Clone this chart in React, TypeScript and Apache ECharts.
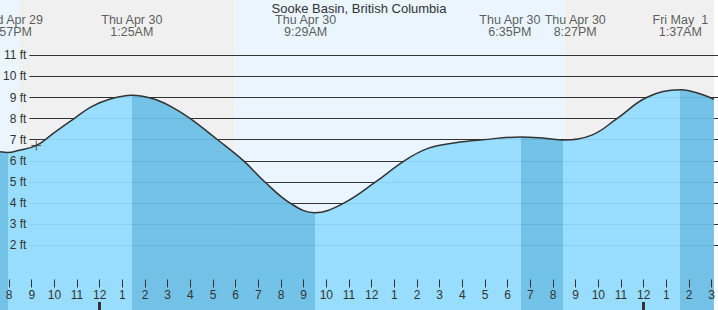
import { useEffect, useRef } from "react";
import * as echarts from "echarts";

// Hours are counted from 8 PM, Wed Apr 29.
const tideHours = [-0.4, -0.05, 0.4, 1.21, 2.01, 2.87, 3.62, 4.43, 5.417, 6.43, 7.23, 8.0, 9.2, 10.35, 11.29, 12.4, 13.483, 14.77, 16.17, 17.44, 18.48, 19.69, 20.89, 22.583, 23.71, 24.45, 25.71, 26.82, 28.13, 29.617, 31.1];
const tideLevels = [6.43, 6.4, 6.49, 6.73, 7.35, 8.0, 8.56, 8.92, 9.11, 8.92, 8.52, 8.0, 7.0, 6.0, 5.0, 4.0, 3.54, 4.0, 5.0, 6.0, 6.59, 6.86, 7.0, 7.13, 7.06, 6.99, 7.22, 8.0, 9.0, 9.37, 8.92];

const eventHours = [-0.05, 5.417, 13.483, 22.583, 24.45, 29.617];
const eventLevels = [6.4, 9.11, 3.54, 7.13, 6.99, 9.37];
const eventDays = ["Wed Apr 29", "Thu Apr 30", "Thu Apr 30", "Thu Apr 30", "Thu Apr 30", "Fri May \u00a01"];
const eventTimes = ["7:57PM", "1:25AM", "9:29AM", "6:35PM", "8:27PM", "1:37AM"];

const dayStarts = [-0.4, 9.955];
const dayEnds = [0.43, 24.51];
const nightStarts = [0.43, 24.51];
const nightEnds = [9.955, 31.1];

const tickHours = Array.from({ length: 32 }, (_, i) => i);
const tickLabels = ["8", "9", "10", "11", "12", "1", "2", "3", "4", "5", "6", "7", "8", "9", "10", "11", "12", "1", "2", "3", "4", "5", "6", "7", "8", "9", "10", "11", "12", "1", "2", "3"];
const midnightHours = [4, 28];

const nowHour = 1.2;
const nowLevel = 6.73;

const title = "Sooke Basin, British Columbia";

// styling (not data)
const labelShift = [2.5, 0, -9, -11, 12, 0];
const labelY = 12.41;
const X_MIN = -0.4;
const X_MAX = 31.1;
const Y_MIN = -1.066;
const Y_MAX = 13.62;
const FONT = "'Liberation Sans', Arial, sans-serif";
const TXT = "#333";
const WATER_LIGHT = "rgb(146,220,255)";
const WATER_DARK = "rgb(106,190,229)";
const NIGHT = "#f0f0f0";
const DAY = "#eaf5ff";

export default function App() {
  const ref = useRef<HTMLDivElement>(null);
  useEffect(() => {
    const chart = echarts.init(ref.current!, null, { renderer: "svg" });
    const tide = tideHours.map((h, i) => [h, tideLevels[i]]);

    const pieces: any[] = [];
    pieces.push({ lt: eventHours[0], color: WATER_DARK });
    for (let i = 0; i < eventHours.length; i++) {
      const rising = i < eventHours.length - 1 ? eventLevels[i + 1] > eventLevels[i] : false;
      const p: any = { gte: eventHours[i], color: rising ? WATER_LIGHT : WATER_DARK };
      if (i < eventHours.length - 1) p.lt = eventHours[i + 1];
      pieces.push(p);
    }

    const bands: any[] = [];
    dayStarts.forEach((s, i) =>
      bands.push([{ xAxis: s, itemStyle: { color: DAY, opacity: 1 } }, { xAxis: dayEnds[i] }])
    );
    nightStarts.forEach((s, i) =>
      bands.push([{ xAxis: s, itemStyle: { color: NIGHT, opacity: 1 } }, { xAxis: nightEnds[i] }])
    );

    const option: any = {
      animation: false,
      textStyle: { fontFamily: FONT },
      title: {
        text: title,
        left: "center",
        top: 2,
        padding: 0,
        textStyle: { fontSize: 13, fontWeight: "normal", color: TXT, fontFamily: FONT },
      },
      grid: [
        { left: 0, right: 0, top: 0, bottom: 0 },
        { left: 29, right: 0, top: 55.3, bottom: 64.7 },
      ],
      xAxis: [
        {
          type: "value",
          gridIndex: 0,
          min: X_MIN,
          max: X_MAX,
          z: 6,
          axisLine: { show: false },
          splitLine: { show: false },
          axisTick: {
            show: true,
            inside: true,
            length: 8,
            customValues: tickHours,
            lineStyle: { color: TXT, width: 1 },
          },
          axisLabel: {
            show: true,
            inside: true,
            margin: 9,
            customValues: tickHours,
            color: TXT,
            fontSize: 12,
            fontFamily: FONT,
            formatter: (v: number) => tickLabels[Math.round(v)] ?? "",
          },
        },
        {
          type: "value",
          gridIndex: 0,
          min: X_MIN,
          max: X_MAX,
          position: "bottom",
          z: 6,
          axisLine: { show: false },
          splitLine: { show: false },
          axisLabel: { show: false },
          axisTick: {
            show: true,
            inside: true,
            length: 8,
            customValues: midnightHours,
            lineStyle: { color: TXT, width: 3 },
          },
        },
        { type: "value", gridIndex: 1, min: 0, max: 1, show: false },
      ],
      yAxis: [
        { type: "value", gridIndex: 0, min: Y_MIN, max: Y_MAX, show: false },
        {
          type: "value",
          gridIndex: 1,
          position: "left",
          min: 2,
          max: 11,
          interval: 1,
          z: 2,
          axisLine: { show: false },
          axisTick: { show: false },
          axisLabel: { show: false },
          splitLine: { show: true, lineStyle: { color: "#333", width: 1 } },
        },
        {
          type: "value",
          gridIndex: 1,
          position: "left",
          offset: 0,
          min: 2,
          max: 11,
          interval: 1,
          z: 6,
          axisLine: { show: false },
          axisTick: { show: false },
          splitLine: { show: false },
          axisLabel: {
            show: true,
            margin: 3,
            color: TXT,
            fontSize: 12,
            fontFamily: FONT,
            formatter: (v: number) => `${v} ft`,
          },
        },
      ],
      visualMap: {
        show: false,
        type: "piecewise",
        dimension: 0,
        seriesIndex: 0,
        pieces,
      },
      series: [
        {
          type: "line",
          xAxisIndex: 0,
          yAxisIndex: 0,
          data: tide,
          smooth: 0.4,
          symbol: "none",
          silent: true,
          z: 3,
          lineStyle: { width: 0 },
          areaStyle: { origin: "start", opacity: 0.93 },
          markArea: {
            silent: true,
            z: 1,
            label: { show: false },
            data: bands,
          },
        },
        {
          type: "line",
          xAxisIndex: 0,
          yAxisIndex: 0,
          data: tide,
          smooth: 0.4,
          symbol: "none",
          silent: true,
          z: 4,
          lineStyle: { color: "#333", width: 1.5 },
        },
        {
          type: "scatter",
          xAxisIndex: 0,
          yAxisIndex: 0,
          silent: true,
          z: 5,
          symbolSize: 0,
          data: eventHours.map((h, i) => ({
            value: [h, labelY],
            label: { offset: [labelShift[i], 0] },
          })),
          label: {
            show: true,
            position: "inside",
            color: TXT,
            fontSize: 12.5,
            lineHeight: 12,
            fontFamily: FONT,
            align: "center",
            formatter: (p: any) => `${eventDays[p.dataIndex]}\n${eventTimes[p.dataIndex]}`,
          },
        },
        {
          type: "scatter",
          xAxisIndex: 0,
          yAxisIndex: 0,
          silent: true,
          z: 5,
          symbol: "path://M5,0 L5,10 M0,5 L10,5",
          symbolSize: 10,
          itemStyle: { color: "transparent", borderColor: "#333", borderWidth: 1 },
          data: [[nowHour, nowLevel]],
        },
      ],
    };
    chart.setOption(option);
    return () => chart.dispose();
  }, []);
  return (
    <div
      ref={ref}
      style={{ position: "absolute", left: 0, top: 0, width: 718, height: 310 }}
    />
  );
}
